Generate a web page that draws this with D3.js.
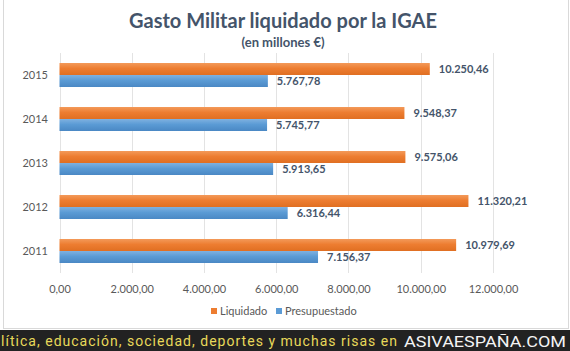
<!DOCTYPE html>
<html>
<head>
<meta charset="utf-8">
<script src="https://cdn.jsdelivr.net/npm/d3@7"></script>
<style>
  body { margin: 0; background: #fff; }
  svg { display: block; }
</style>
</head>
<body>
<svg id="chart" width="570" height="351"></svg>
<script>
// Datos (en millones €)
const years = ["2015", "2014", "2013", "2012", "2011"];
const liquidado = [10250.46, 9548.37, 9575.06, 11320.21, 10979.69];
const presupuestado = [5767.78, 5745.77, 5913.65, 6316.44, 7156.37];
const seriesNames = ["Liquidado", "Presupuestado"];
const xTicks = [0, 2000, 4000, 6000, 8000, 10000, 12000];

const data = years.map((y, i) => ({ year: y, Liquidado: liquidado[i], Presupuestado: presupuestado[i] }));

const es = d3.formatLocale({ decimal: ",", thousands: ".", grouping: [3], currency: ["", " €"] });
const fmt = es.format(",.2f");

const svg = d3.select("#chart");
const font = "Lato, 'Open Sans', sans-serif";

// Marco del gráfico
svg.append("rect")
  .attr("x", 3.5).attr("y", -1).attr("width", 565).attr("height", 329.5)
  .attr("fill", "#fff").attr("stroke", "#d9d9d9");

// Degradados de las barras
const defs = svg.append("defs");
const grads = { Liquidado: ["#f39a5a", "#ed7d31", "#e06f22"], Presupuestado: ["#7fb1e0", "#5b9bd5", "#4a88c4"] };
Object.entries(grads).forEach(([k, c]) => {
  const g = defs.append("linearGradient").attr("id", "g" + k).attr("x1", 0).attr("x2", 0).attr("y1", 0).attr("y2", 1);
  g.append("stop").attr("offset", "0%").attr("stop-color", c[0]);
  g.append("stop").attr("offset", "45%").attr("stop-color", c[1]);
  g.append("stop").attr("offset", "100%").attr("stop-color", c[2]);
});

const color = d3.scaleOrdinal().domain(seriesNames).range(["#ed7d31", "#5b9bd5"]);

// Escalas
const x = d3.scaleLinear().domain([0, 12000]).range([59.5, 493]);
const y = d3.scaleBand().domain(years).range([53, 273]).paddingInner(0.4545).paddingOuter(0.2273);
const ySub = d3.scaleBand().domain(seriesNames).range([0, y.bandwidth()]);

// Líneas de cuadrícula
svg.append("g")
  .selectAll("line")
  .data(xTicks)
  .enter().append("line")
    .attr("x1", d => Math.round(x(d)) + 0.5)
    .attr("x2", d => Math.round(x(d)) + 0.5)
    .attr("y1", 53).attr("y2", 273)
    .attr("stroke", "#e3e3e3");

// Eje X
const xAxis = svg.append("g")
  .attr("transform", "translate(0,282)")
  .call(d3.axisBottom(x).tickValues(xTicks).tickFormat(fmt).tickSize(0));
xAxis.select(".domain").remove();
xAxis.selectAll("text")
  .attr("dy", "0.71em")
  .style("font-family", font).style("font-size", "11px").attr("fill", "#595959");

// Eje Y
const yAxis = svg.append("g")
  .attr("transform", "translate(48,0)")
  .call(d3.axisLeft(y).tickSize(0).tickPadding(0));
yAxis.select(".domain").remove();
yAxis.selectAll("text")
  .style("font-family", font).style("font-size", "11px").attr("fill", "#595959");

// Barras
const groups = svg.append("g")
  .selectAll("g")
  .data(data)
  .enter().append("g")
    .attr("transform", d => `translate(0,${y(d.year)})`);

groups.selectAll("rect")
  .data(d => seriesNames.map(k => ({ key: k, value: d[k] })))
  .enter().append("rect")
    .attr("x", x(0))
    .attr("y", d => ySub(d.key))
    .attr("width", d => x(d.value) - x(0))
    .attr("height", ySub.bandwidth())
    .attr("fill", d => `url(#g${d.key})`);

// Etiquetas de valor
groups.selectAll("text")
  .data(d => seriesNames.map(k => ({ key: k, value: d[k] })))
  .enter().append("text")
    .attr("x", d => x(d.value) + 9)
    .attr("y", d => ySub(d.key) + ySub.bandwidth() / 2)
    .attr("dy", "0.35em")
    .style("font-family", font).style("font-size", "11px").style("font-weight", "bold")
    .attr("fill", "#44546a")
    .text(d => fmt(d.value));

// Título
svg.append("text")
  .attr("x", 283).attr("y", 28)
  .attr("text-anchor", "middle")
  .style("font-family", font).style("font-size", "20px").style("font-weight", "bold")
  .attr("fill", "#44546a")
  .text("Gasto Militar liquidado por la IGAE");

svg.append("text")
  .attr("x", 283).attr("y", 47)
  .attr("text-anchor", "middle")
  .style("font-family", font).style("font-size", "13px").style("font-weight", "bold")
  .attr("fill", "#44546a")
  .text("(en millones €)");

// Leyenda
const legend = svg.append("g").attr("transform", "translate(211,311)");
const legendX = [0, 65];
seriesNames.forEach((k, i) => {
  legend.append("rect")
    .attr("x", legendX[i]).attr("y", -3).attr("width", 6).attr("height", 6)
    .attr("fill", color(k));
  legend.append("text")
    .attr("x", legendX[i] + 9).attr("y", 0).attr("dy", "0.35em")
    .style("font-family", font).style("font-size", "11px")
    .attr("fill", "#595959")
    .text(k);
});

// Banda inferior
svg.append("rect").attr("x", 0).attr("y", 330).attr("width", 570).attr("height", 21).attr("fill", "#222");
svg.append("text")
  .attr("x", 1).attr("y", 346)
  .attr("textLength", 396).attr("lengthAdjust", "spacing")
  .style("font-family", "Roboto, sans-serif").style("font-size", "14px")
  .attr("fill", "#e8d95a")
  .text("lítica, educación, sociedad, deportes y muchas risas en");
svg.append("text")
  .attr("x", 404).attr("y", 347)
  .attr("textLength", 162).attr("lengthAdjust", "spacingAndGlyphs")
  .style("font-family", "Roboto, sans-serif").style("font-size", "15px")
  .attr("fill", "#f4f4f4")
  .text("ASIVAESPAÑA.COM");
</script>
</body>
</html>
